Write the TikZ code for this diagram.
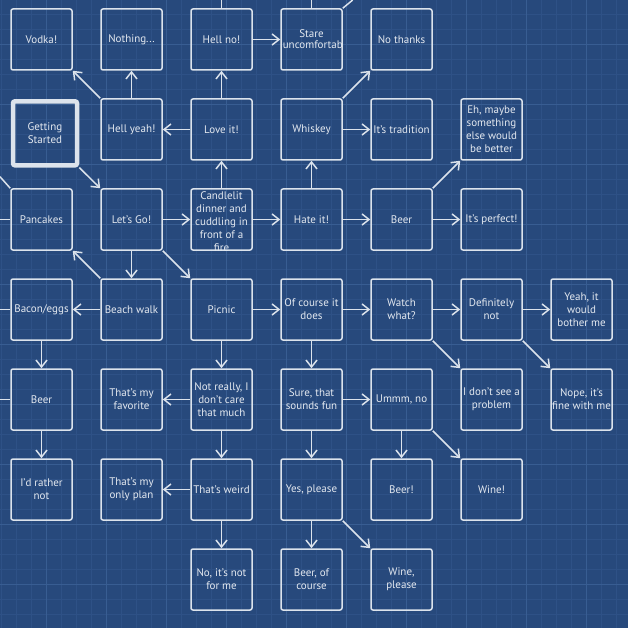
\documentclass[tikz,border=0pt]{standalone}
\usepackage{fontspec}
\setmainfont{PT Sans}
\usetikzlibrary{arrows.meta}
\definecolor{bgc}{HTML}{27497C}
\definecolor{gridminor}{HTML}{2E5186}
\definecolor{gridmajor}{HTML}{385D92}
\definecolor{linec}{HTML}{DCE3EC}
\definecolor{txtc}{HTML}{E4E9F0}
\tikzset{
  box/.style={draw=linec, line width=1.5pt, rounded corners=2pt, minimum width=61pt, minimum height=61pt, inner sep=0pt, align=center, text=txtc, font=\fontsize{11}{13}\selectfont},
  startbox/.style={box, line width=4.5pt, minimum width=64pt, minimum height=64pt},
  txt/.style={inner sep=0pt, align=center, text=txtc, font=\fontsize{11}{13}\selectfont},
  conn/.style={draw=linec, line width=1.5pt, -{Straight Barb[length=7pt,width=11pt]}},
  stub/.style={draw=linec, line width=1.5pt},
}
\begin{document}
\begin{tikzpicture}[x=1pt,y=-1pt]
\fill[bgc] (0,0) rectangle (628,628);
\useasboundingbox (0,0) rectangle (628,628);
\foreach \i in {0,...,42} {
  \draw[gridminor, line width=0.6pt] (1.7+15*\i,0) -- (1.7+15*\i,628);
  \draw[gridminor, line width=0.6pt] (0,-0.7+15*\i) -- (628,-0.7+15*\i);
}
\foreach \i in {-1,...,10} {
  \draw[gridmajor, line width=0.8pt] (46.7+60*\i,0) -- (46.7+60*\i,628);
  \draw[gridmajor, line width=0.8pt] (0,44.3+60*\i) -- (628,44.3+60*\i);
}
% row 0
\node[box] (vodka) at (41.5,39.5) {Vodka!};
\node[box] (nothing) at (131.5,39.5) {Nothing...};
\node[box] (hellno) at (221.5,39.5) {Hell no!};
\node[box] (stare) at (311.5,39.5) {};
\node[box] (nothanks) at (401.5,39.5) {No thanks};
% row 1
\node[startbox] (gs) at (45,133.3) {Getting\\Started};
\node[box] (hellyeah) at (131.5,129.5) {Hell yeah!};
\node[box] (love) at (221.5,129.5) {Love it!};
\node[box] (whiskey) at (311.5,129.5) {Whiskey};
\node[box] (tradition) at (401.5,129.5) {It's tradition};
\node[box] (eh) at (491.5,129.5) {Eh, maybe\\something\\else would\\be better};
% row 2
\node[box] (pancakes) at (41.5,219.5) {Pancakes};
\node[box] (lets) at (131.5,219.5) {Let's Go!};
\node[box] (candle) at (221.5,219.5) {};
\node[box] (hate) at (311.5,219.5) {Hate it!};
\node[box] (beer) at (401.5,219.5) {Beer};
\node[box] (perfect) at (491.5,219.5) {It's perfect!};
% row 3
\node[box] (bacon) at (41.5,309.5) {Bacon/eggs};
\node[box] (beach) at (131.5,309.5) {Beach walk};
\node[box] (picnic) at (221.5,309.5) {Picnic};
\node[box] (ofcourse) at (311.5,309.5) {Of course it\\does};
\node[box] (watch) at (401.5,309.5) {Watch\\what?};
\node[box] (definitely) at (491.5,309.5) {Definitely\\not};
\node[box] (bother) at (581.5,309.5) {Yeah, it\\would\\bother me};
% row 4
\node[box] (beer0) at (41.5,399.5) {Beer};
\node[box] (favorite) at (131.5,399.5) {That's my\\favorite};
\node[box] (notreally) at (221.5,399.5) {Not really, I\\don't care\\that much};
\node[box] (sure) at (311.5,399.5) {Sure, that\\sounds fun};
\node[box] (ummm) at (401.5,399.5) {Ummm, no};
\node[box] (noproblem) at (491.5,399.5) {I don't see a\\problem};
\node[box] (nope) at (581.5,399.5) {Nope, it's\\fine with me};
% row 5
\node[box] (rather) at (41.5,489.5) {I'd rather\\not};
\node[box] (onlyplan) at (131.5,489.5) {That's my\\only plan};
\node[box] (weird) at (221.5,489.5) {That's weird};
\node[box] (yes) at (311.5,489.5) {Yes, please};
\node[box] (beerx) at (401.5,489.5) {Beer!};
\node[box] (wine) at (491.5,489.5) {Wine!};
% row 6
\node[box] (notforme) at (221.5,579.5) {No, it's not\\for me};
\node[box] (beercourse) at (311.5,579.5) {Beer, of\\course};
\node[box] (wineplease) at (401.5,579.5) {Wine,\\please};
% clipped texts
\begin{scope}
  \clip (191,189) rectangle (252,250);
  \node[txt] (candletxt) at (221.5,221.7) {Candlelit\\dinner and\\cuddling in\\front of a\\fire};
\end{scope}
\begin{scope}
  \clip (281,9) rectangle (342,70);
  \node[txt] (staretxt) at (311.5,33.3) {Stare};
  \node[txt, anchor=west] (staretxt2) at (282.6,46) {uncomfortably};
\end{scope}
% off-picture connectors
\coordinate (offa) at (0,219.5);
\coordinate (offb) at (0,176.7);
\coordinate (offc) at (0,309.5);
\coordinate (offd) at (0,399.5);
\coordinate (offe) at (221.5,0);
\coordinate (offf) at (311.5,0);
\coordinate (offg) at (352.7,0);
\draw[stub] (pancakes.west) -- (offa);
\draw[stub] (pancakes.north west) -- (offb);
\draw[stub] (bacon.west) -- (offc);
\draw[stub] (beer0.west) -- (offd);
\draw[stub] (hellno.north) -- (offe);
\draw[stub] (stare.north) -- (offf);
\draw[stub] (stare.north east) -- (offg);
% connectors
\draw[conn] (gs.south east) -- (lets.north west);
\draw[conn] (lets) -- (candle);
\draw[conn] (candle) -- (love);
\draw[conn] (love) -- (hellyeah);
\draw[conn] (love) -- (hellno);
\draw[conn] (hellyeah) -- (nothing);
\draw[conn] (hellyeah.north west) -- (vodka.south east);
\draw[conn] (hellno) -- (stare);
\draw[conn] (candle) -- (hate);
\draw[conn] (hate) -- (whiskey);
\draw[conn] (whiskey.north east) -- (nothanks.south west);
\draw[conn] (whiskey) -- (tradition);
\draw[conn] (hate) -- (beer);
\draw[conn] (beer.north east) -- (eh.south west);
\draw[conn] (beer) -- (perfect);
\draw[conn] (lets) -- (beach);
\draw[conn] (lets.south east) -- (picnic.north west);
\draw[conn] (beach.north west) -- (pancakes.south east);
\draw[conn] (beach) -- (bacon);
\draw[conn] (bacon) -- (beer0);
\draw[conn] (beer0) -- (rather);
\draw[conn] (picnic) -- (ofcourse);
\draw[conn] (picnic) -- (notreally);
\draw[conn] (notreally) -- (favorite);
\draw[conn] (notreally) -- (weird);
\draw[conn] (weird) -- (onlyplan);
\draw[conn] (weird) -- (notforme);
\draw[conn] (ofcourse) -- (watch);
\draw[conn] (ofcourse) -- (sure);
\draw[conn] (watch) -- (definitely);
\draw[conn] (watch.south east) -- (noproblem.north west);
\draw[conn] (definitely) -- (bother);
\draw[conn] (definitely.south east) -- (nope.north west);
\draw[conn] (sure) -- (ummm);
\draw[conn] (sure) -- (yes);
\draw[conn] (ummm) -- (beerx);
\draw[conn] (ummm.south east) -- (wine.north west);
\draw[conn] (yes) -- (beercourse);
\draw[conn] (yes.south east) -- (wineplease.north west);
\end{tikzpicture}
\end{document}
